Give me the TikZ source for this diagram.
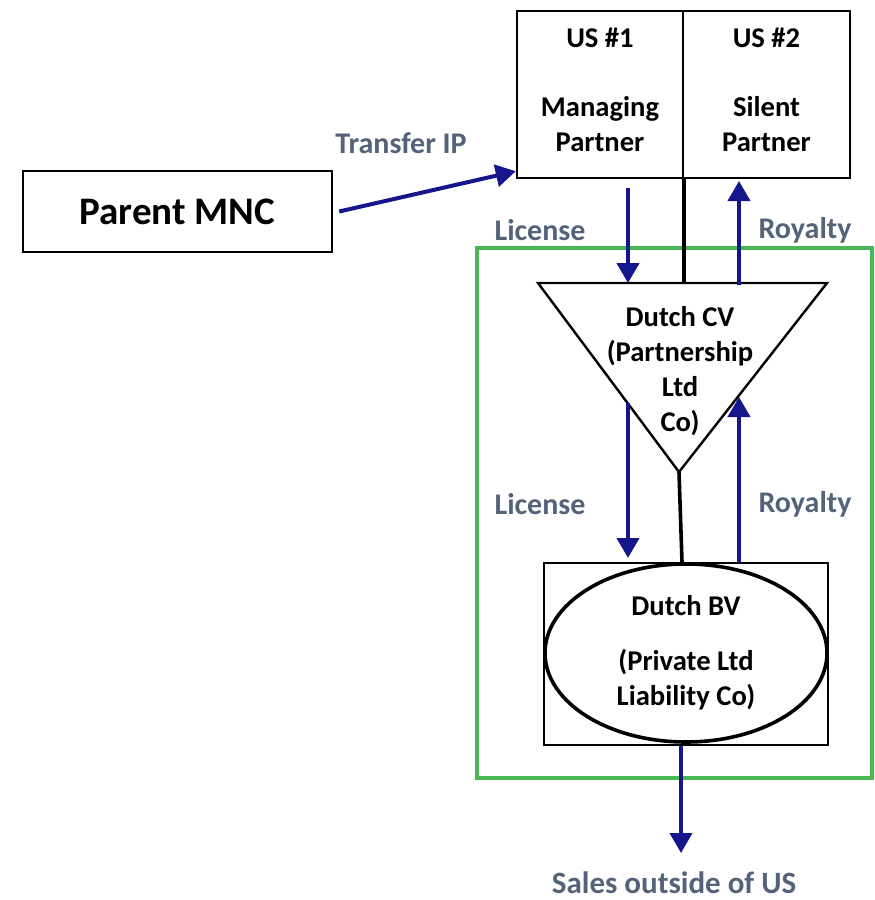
\documentclass[tikz,border=0pt]{standalone}
\usepackage{fontspec}
\setmainfont{Carlito}
\usepackage{xcolor}
\usepackage{tikz}
\usetikzlibrary{shapes.geometric}
\usetikzlibrary{arrows.meta}
\definecolor{flowblue}{RGB}{22,22,140}
\definecolor{labelgray}{RGB}{84,98,122}
\definecolor{zonegreen}{RGB}{72,184,84}

\begin{document}
\begin{tikzpicture}[x=0.5pt, y=-0.5pt,
    font=\bfseries\fontsize{14.3}{17.5}\selectfont,
    entity/.style={draw, line width=1.2pt, rectangle, inner sep=0pt, align=center},
    flow/.style={draw=flowblue, line width=2pt, -{Triangle[length=10pt, width=11pt]}},
    flowlabel/.style={text=labelgray, font=\bfseries\fontsize{15}{17}\selectfont}]
	\useasboundingbox (0,0) rectangle (874,900);
	% Dutch zone
	\draw[zonegreen, line width=1.8pt] (477,248) rectangle (872,778);
	% Nodes
	\node[entity, minimum width=154.5pt, minimum height=40.5pt,
	  font=\bfseries\fontsize{19.5}{22}\selectfont] (mnc) at (177.5,211.5) {Parent MNC};
	\node[entity, minimum width=83pt, minimum height=83.5pt] (us1) at (600,94.5) {};
	\node[entity, minimum width=83.5pt, minimum height=83.5pt] (us2) at (766.5,94.5) {};
	\node[align=center] (us1t) at (600,90) {US \#1\\[17pt]Managing\\Partner};
	\node[align=center] (us2t) at (766.5,90) {US \#2\\[17pt]Silent\\Partner};
	% Dutch CV (triangle)
	\coordinate (cvl) at (538,283);
	\coordinate (cvr) at (827,283);
	\coordinate (cvb) at (679,472);
	\draw[line width=1.2pt, line join=miter] (cvl) -- (cvr) -- (cvb) -- cycle;
	\node[align=center] (cv) at (680,371) {Dutch CV\\(Partnership\\Ltd\\Co)};
	% Dutch BV
	\node[entity, minimum width=142pt, minimum height=91pt] (bvbox) at (686,654) {};
	\node[draw, ellipse, line width=1.8pt, minimum width=141pt, minimum height=89pt,
	  inner sep=0pt, align=center] (bv) at (686,653) {Dutch BV\\[10pt](Private Ltd\\Liability Co)};
	% Partnership links
	\draw[line width=1.8pt] (us1.south east) -- (us1.south east |- cvl);
	\draw[line width=1.8pt] (cvb) -- ([xshift=-2pt]bvbox.north);
	% Flows
	\coordinate (lic1a) at (628,188);
	\coordinate (lic1b) at (628,283);
	\coordinate (roy1a) at (739,285);
	\coordinate (roy1b) at (739,181);
	\coordinate (lic2a) at (628,403);
	\coordinate (lic2b) at (628,558);
	\coordinate (roy2a) at (739,563);
	\coordinate (roy2b) at (739,397);
	\coordinate (sales) at (681,853);
	\draw[flow] ([xshift=3pt]mnc.east) -- ([yshift=4pt]us1.south west);
	\draw[flow] (lic1a) -- (lic1b);
	\draw[flow] (roy1a) -- (roy1b);
	\draw[flow] (lic2a) -- (lic2b);
	\draw[flow] (roy2a) -- (roy2b);
	\draw[flow] ([xshift=-2.5pt]bvbox.south) -- (sales);
	% Flow labels
	\node[flowlabel] (tipl) at (401,143) {Transfer IP};
	\node[flowlabel] (lic1l) at (540,230) {License};
	\node[flowlabel] (roy1l) at (805,230) {Royalty};
	\node[flowlabel] (lic2l) at (540,504) {License};
	\node[flowlabel] (roy2l) at (805,504) {Royalty};
	\node[flowlabel, font=\bfseries\fontsize{15.5}{17}\selectfont] (salesl) at (674,883) {Sales outside of US};
\end{tikzpicture}
\end{document}
